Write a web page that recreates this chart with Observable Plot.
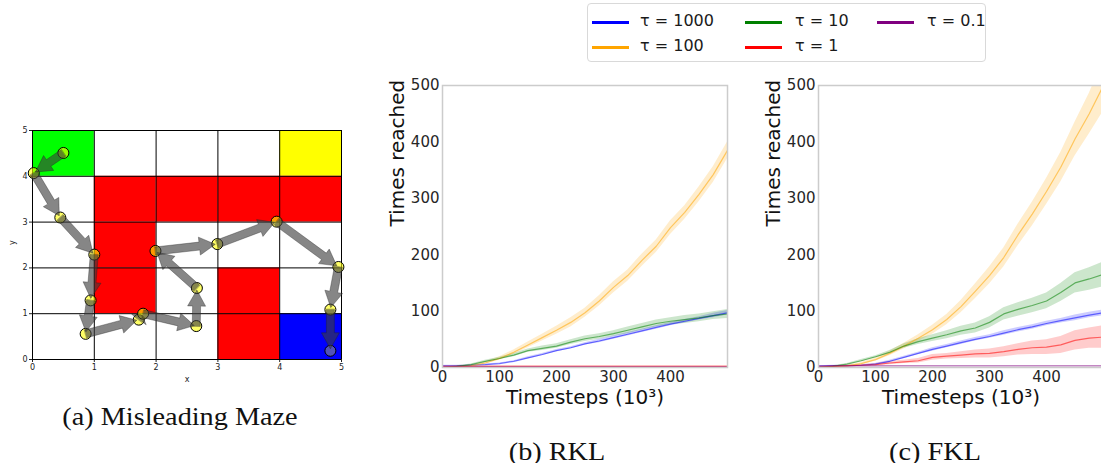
<!DOCTYPE html>
<html>
<head>
<meta charset="utf-8">
<script src="https://cdn.jsdelivr.net/npm/d3@7"></script>
<script src="https://cdn.jsdelivr.net/npm/@observablehq/plot@0.6"></script>
<style>
  html, body { margin: 0; padding: 0; background: #fff; }
  body { width: 1101px; height: 463px; overflow: hidden; position: relative; font-family: "DejaVu Sans", sans-serif; }
  .abs { position: absolute; }
  .abs svg { max-width: none !important; }
  #legend { left: 587px; top: 3px; width: 399px; height: 59px; border: 1px solid #d9d9d9; border-radius: 4px; box-sizing: border-box; }
  .lg-line { position: absolute; width: 37px; height: 3px; }
  .lg-text { position: absolute; font-size: 16px; color: #1a1a1a; line-height: 16px; white-space: nowrap; }
  .caption { position: absolute; font-family: "Liberation Serif", serif; font-size: 25px; color: #111; white-space: nowrap; transform: translate(-50%, -50%) scaleX(1.13); }
</style>
</head>
<body>
<div id="legend" class="abs"></div>
<div id="maze" class="abs" style="left:0px; top:115px; width:360px; height:275px;"></div>
<div id="rkl" class="abs" style="left:380px; top:70px; width:360px; height:345px;"></div>
<div id="fkl" class="abs" style="left:756px; top:70px; width:360px; height:345px;"></div>
<div class="caption" style="left:180px; top:417px;">(a) Misleading Maze</div>
<div class="caption" style="left:557px; top:452px;">(b) RKL</div>
<div class="caption" style="left:935px; top:452px;">(c) FKL</div>
<script>
// ---------------- data ----------------
const tauLabels = ["τ = 1000", "τ = 100", "τ = 10", "τ = 1", "τ = 0.1"];
const steps = [0, 25, 50, 75, 100, 125, 150, 175, 200, 225, 250, 275, 300, 325, 350, 375, 400, 425, 450, 475, 500];

// RKL panel (mean and half-width of shaded band)
const rklMean1000 = [3, 3, 4, 5, 7, 11, 17, 23, 30, 35, 42, 47, 53, 59, 65, 71, 77, 82, 87, 92, 97];
const rklSpread1000 = [1, 1, 1, 1, 1, 1, 2, 2, 2, 2, 2, 3, 3, 3, 3, 3, 3, 3, 3, 4, 4];
const rklMean100 = [0, 1, 3, 8, 16, 27, 40, 53, 66, 80, 97, 118, 142, 163, 190, 215, 248, 275, 307, 342, 385];
const rklSpread100 = [0, 1, 1, 2, 3, 4, 5, 6, 7, 8, 8, 9, 10, 10, 11, 11, 12, 12, 13, 14, 15];
const rklMean10 = [0, 2, 5, 11, 16, 22, 30, 34, 38, 45, 51, 55, 60, 66, 72, 78, 82, 85, 88, 92, 95];
const rklSpread10 = [0, 1, 1, 2, 2, 3, 3, 4, 4, 4, 5, 5, 5, 6, 6, 6, 6, 7, 7, 7, 8];
const rklMean1 = [2, 2, 2, 2, 2, 2, 2, 2, 2, 2, 2, 2, 2, 2, 2, 2, 2, 2, 2, 2, 2];
const rklSpread1 = [1, 1, 1, 1, 1, 1, 1, 1, 1, 1, 1, 1, 1, 1, 1, 1, 1, 1, 1, 1, 1];
const rklMean01 = [1, 1, 1, 1, 1, 1, 1, 1, 1, 1, 1, 1, 1, 1, 1, 1, 1, 1, 1, 1, 1];
const rklSpread01 = [0.5, 0.5, 0.5, 0.5, 0.5, 0.5, 0.5, 0.5, 0.5, 0.5, 0.5, 0.5, 0.5, 0.5, 0.5, 0.5, 0.5, 0.5, 0.5, 0.5, 0.5];

// FKL panel
const fklMean1000 = [2, 3, 3, 4, 6, 11, 18, 25, 32, 38, 44, 50, 55, 61, 67, 72, 78, 83, 88, 93, 97];
const fklSpread1000 = [1, 1, 1, 1, 1, 2, 2, 2, 3, 3, 3, 3, 3, 4, 4, 4, 4, 4, 5, 5, 5];
const fklMean100 = [0, 1, 3, 7, 14, 25, 38, 52, 67, 85, 108, 135, 163, 195, 235, 272, 312, 355, 405, 450, 500];
const fklSpread100 = [0, 1, 1, 2, 3, 4, 5, 6, 8, 9, 11, 13, 15, 17, 19, 21, 23, 26, 30, 36, 45];
const fklMean10 = [0, 2, 6, 12, 19, 27, 38, 46, 52, 58, 65, 70, 80, 95, 103, 110, 118, 133, 150, 157, 165];
const fklSpread10 = [0, 1, 1, 2, 2, 3, 4, 5, 6, 7, 8, 9, 10, 11, 12, 13, 14, 16, 18, 20, 22];
const fklMean1 = [1, 2, 3, 4, 5, 8, 10, 12, 18, 20, 22, 24, 25, 28, 32, 35, 36, 40, 48, 52, 54];
const fklSpread1 = [0, 1, 1, 1, 2, 3, 3, 4, 5, 5, 6, 7, 8, 9, 10, 12, 13, 15, 17, 18, 20];
const fklMean01 = [3, 3, 3, 3, 3, 3, 3, 3, 3, 3, 3, 3, 3, 3, 3, 3, 3, 3, 3, 3, 3];
const fklSpread01 = [0.5, 0.5, 0.5, 0.5, 0.5, 0.5, 0.5, 0.5, 0.5, 0.5, 0.5, 0.5, 0.5, 0.5, 0.5, 0.5, 0.5, 0.5, 0.5, 0.5, 0.5];

// Maze cells (lower-left corner) and their kind
const cellX = [0, 4, 1, 2, 3, 4, 1, 1, 3, 3, 4];
const cellY = [4, 4, 3, 3, 3, 3, 2, 1, 1, 0, 0];
const cellKind = ["start", "goal", "wall", "wall", "wall", "wall", "wall", "wall", "wall", "wall", "end"];
// Agent trajectory in the maze
const pathX = [0.50, 0.02, 0.45, 1.00, 0.94, 0.86, 1.72, 1.79, 2.65, 2.66, 1.99, 2.99, 3.95, 4.95, 4.82, 4.82];
const pathY = [4.51, 4.07, 3.10, 2.29, 1.29, 0.56, 0.87, 1.00, 0.73, 1.56, 2.37, 2.52, 3.01, 2.02, 1.09, 0.19];
const mazeTicks = [0, 1, 2, 3, 4, 5];
const curveTicks = [0, 100, 200, 300, 400, 500];
const curveXTicks = [0, 100, 200, 300, 400];

// ---------------- styles ----------------
const tauColors = ["#0000ff", "#ffa500", "#008000", "#ff0000", "#800080"];
const kindColors = { start: "#00ff00", goal: "#ffff00", wall: "#ff0000", end: "#0000ff" };

// ---------------- legend ----------------
const legendPos = [[592, 22, 640], [592, 47, 640], [745, 22, 795], [745, 47, 795], [877, 22, 927]];
const legend = document.getElementById("legend");
tauLabels.forEach((lab, i) => {
  const [lx, ly, tx] = legendPos[i];
  const ln = document.createElement("div");
  ln.className = "lg-line";
  ln.style.left = (lx - 588) + "px";
  ln.style.top = (ly - 4 - 1.5) + "px";
  ln.style.background = tauColors[i];
  legend.appendChild(ln);
  const t = document.createElement("div");
  t.className = "lg-text";
  t.style.left = (tx - 588) + "px";
  t.style.top = (ly - 4 - 9) + "px";
  t.textContent = lab;
  legend.appendChild(t);
});

// ---------------- maze ----------------
const cells = cellX.map((x, i) => ({ x, y: cellY[i], color: kindColors[cellKind[i]] }));
const mzW = 360, mzH = 275, mzL = 32, mzR = 19, mzT = 15, mzB = 31;
const kx = (mzW - mzL - mzR) / 5, ky = (mzH - mzT - mzB) / 5;
const arrowPts = [];
for (let i = 0; i < pathX.length - 1; i++) {
  const X0 = pathX[i] * kx, Y0 = pathY[i] * ky, X1 = pathX[i + 1] * kx, Y1 = pathY[i + 1] * ky;
  const L = Math.hypot(X1 - X0, Y1 - Y0);
  if (L < 1) continue;
  const ux = (X1 - X0) / L, uy = (Y1 - Y0) / L, nx = -uy, ny = ux;
  const Tx = X1 - ux * 2, Ty = Y1 - uy * 2;
  const hl = Math.min(16, L * 0.7);
  const Bx = Tx - ux * hl, By = Ty - uy * hl;
  const w = 4, hw = 9;
  const poly = [
    [X0 + nx * w, Y0 + ny * w], [Bx + nx * w, By + ny * w], [Bx + nx * hw, By + ny * hw],
    [Tx, Ty], [Bx - nx * hw, By - ny * hw], [Bx - nx * w, By - ny * w], [X0 - nx * w, Y0 - ny * w]
  ];
  poly.forEach(([X, Y]) => arrowPts.push({ a: i, x: X / kx, y: Y / ky }));
}
const pts = pathX.map((x, i) => ({ x, y: pathY[i], last: i === pathX.length - 1 }));

const maze = Plot.plot({
  width: mzW, height: mzH, marginLeft: mzL, marginRight: mzR, marginTop: mzT, marginBottom: mzB,
  style: { fontSize: "8px", fontFamily: "DejaVu Sans", color: "#222", background: "transparent" },
  color: { type: "identity" },
  x: { domain: [0, 5], ticks: mazeTicks, tickFormat: d => String(d), tickSize: 3, tickPadding: 2, label: null },
  y: { domain: [0, 5], ticks: mazeTicks, tickFormat: d => String(d), tickSize: 3, tickPadding: 2, label: null },
  marks: [
    Plot.rect(cells, { x1: "x", x2: d => d.x + 1, y1: "y", y2: d => d.y + 1, fill: "color" }),
    Plot.ruleX(mazeTicks, { stroke: "#000", strokeWidth: 1 }),
    Plot.ruleY(mazeTicks, { stroke: "#000", strokeWidth: 1 }),
    Plot.dot(pts, { x: "x", y: "y", r: 5.5, fill: d => d.last ? "#888" : "#ffff00", fillOpacity: 0.6, stroke: "#000", strokeWidth: 1 }),
    Plot.line(arrowPts, { x: "x", y: "y", z: "a", curve: "linear-closed", fill: "#3c3c3c", fillOpacity: 0.62, stroke: "#222", strokeOpacity: 0.6, strokeWidth: 0.6 }),
    Plot.text(["x"], { frameAnchor: "bottom", dy: 22, fontSize: 8 }),
    Plot.text(["y"], { frameAnchor: "left", dx: -20, rotate: -90, fontSize: 8 })
  ]
});
document.getElementById("maze").appendChild(maze);

// ---------------- curves ----------------
function buildRows(means, spreads) {
  const rows = [];
  tauLabels.forEach((tau, s) => {
    steps.forEach((x, i) => {
      rows.push({ tau, x, mean: means[s][i], lo: means[s][i] - spreads[s][i], hi: means[s][i] + spreads[s][i] });
    });
  });
  return rows;
}
function curvePlot(rows) {
  return Plot.plot({
    width: 360, height: 345, marginLeft: 62, marginRight: 13, marginTop: 15, marginBottom: 48,
    style: { fontSize: "15px", fontFamily: "DejaVu Sans", color: "#262626", background: "transparent" },
    color: { domain: tauLabels, range: tauColors },
    x: { domain: [0, 500], ticks: curveXTicks, tickFormat: d => String(d), tickSize: 0, tickPadding: 4, label: null },
    y: { domain: [0, 500], ticks: curveTicks, tickFormat: d => String(d), tickSize: 0, tickPadding: 3, label: null },
    marks: [
      Plot.areaY(rows, { x: "x", y1: "lo", y2: "hi", z: "tau", fill: "tau", fillOpacity: 0.2, clip: true }),
      Plot.line(rows, { x: "x", y: "mean", z: "tau", stroke: "tau", strokeOpacity: 0.55, strokeWidth: 1.2, clip: true }),
      Plot.frame({ stroke: "#cccccc", strokeWidth: 1.5 }),
      Plot.text(["Timesteps (10³)"], { frameAnchor: "bottom", dy: 36, fontSize: 20, fill: "#111" }),
      Plot.text(["Times reached"], { frameAnchor: "left", dx: -45, rotate: -90, fontSize: 20, fill: "#111" })
    ]
  });
}
const rklRows = buildRows(
  [rklMean1000, rklMean100, rklMean10, rklMean1, rklMean01],
  [rklSpread1000, rklSpread100, rklSpread10, rklSpread1, rklSpread01]);
const fklRows = buildRows(
  [fklMean1000, fklMean100, fklMean10, fklMean1, fklMean01],
  [fklSpread1000, fklSpread100, fklSpread10, fklSpread1, fklSpread01]);
document.getElementById("rkl").appendChild(curvePlot(rklRows));
document.getElementById("fkl").appendChild(curvePlot(fklRows));
</script>
</body>
</html>
